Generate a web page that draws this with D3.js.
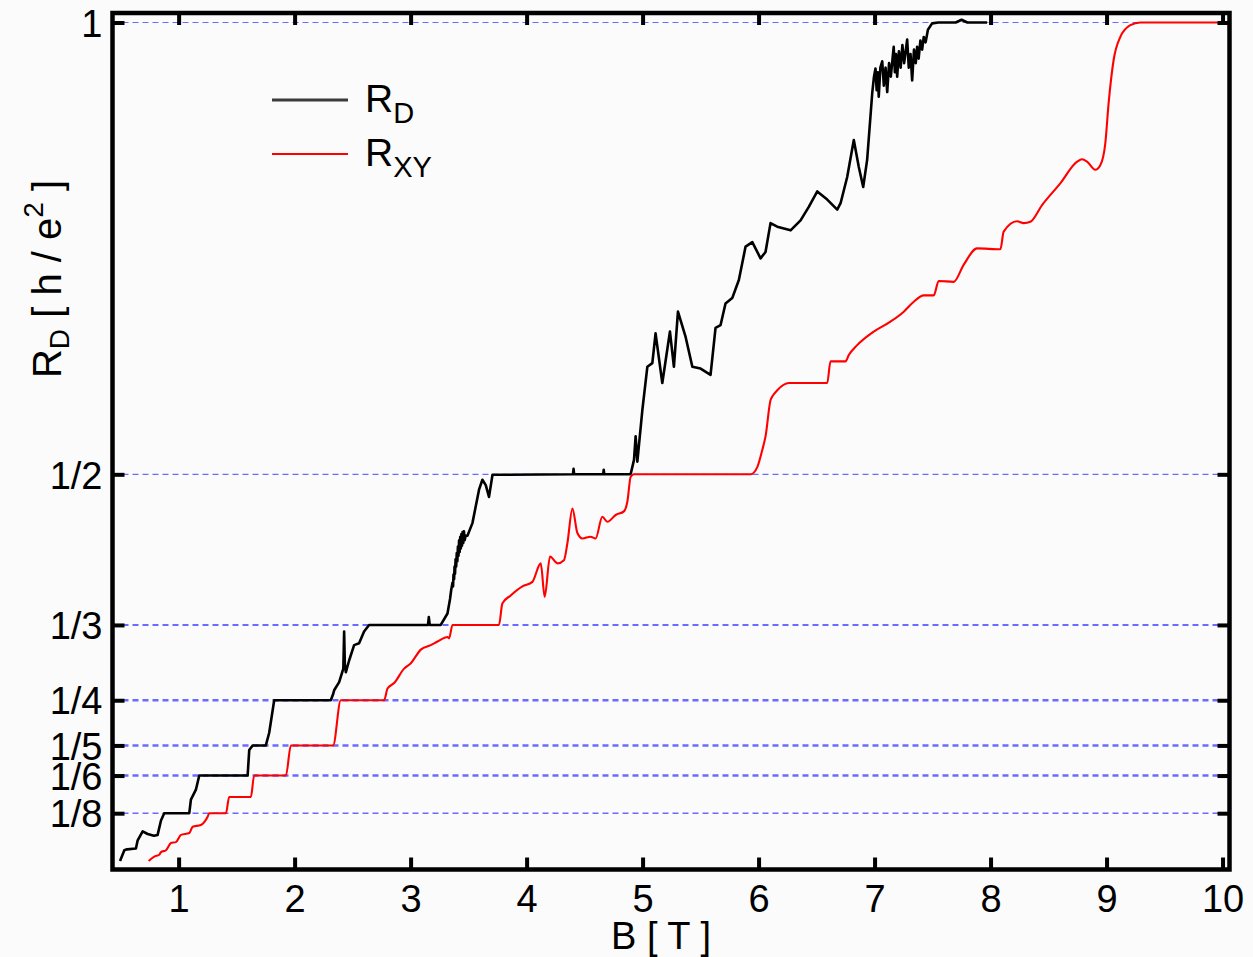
<!DOCTYPE html>
<html>
<head>
<meta charset="utf-8">
<script src="https://cdn.jsdelivr.net/npm/d3@7"></script>
<style>
  html, body { margin: 0; padding: 0; background: #fbfbfb; }
  svg { display: block; }
</style>
</head>
<body>
<svg id="chart" width="1253" height="957"></svg>
<script>
// ---------------- data ----------------
const xTicks = [1, 2, 3, 4, 5, 6, 7, 8, 9, 10];
const yTicks = [1, 1/2, 1/3, 1/4, 1/5, 1/6, 1/8];
const yTickLabels = ["1", "1/2", "1/3", "1/4", "1/5", "1/6", "1/8"];
const seriesNames = ["RD", "RXY"];

// R_D (black) : [B (T), R (h/e^2)]
const rD = [
  [0.495,0.072],[0.532,0.084],[0.555,0.085],[0.632,0.086],[0.647,0.095],[0.690,0.105],[0.733,0.102],
  [0.787,0.100],[0.819,0.101],[0.848,0.117],[0.876,0.125],[1.092,0.125],[1.106,0.140],[1.149,0.151],
  [1.178,0.1667],[1.595,0.1667],[1.609,0.195],[1.638,0.2],[1.752,0.2],[1.781,0.214],[1.824,0.25],
  [2.312,0.25],[2.330,0.256],[2.341,0.261],[2.384,0.270],[2.420,0.285],[2.427,0.326],[2.433,0.290],
  [2.442,0.281],[2.470,0.294],[2.513,0.311],[2.556,0.313],[2.599,0.326],[2.642,0.3333],[3.15,0.3333],
  [3.157,0.342],[3.165,0.3333],[3.26,0.3333],[3.318,0.346],[3.340,0.362],[3.350,0.372],[3.361,0.380],
  [3.366,0.376],[3.370,0.389],[3.375,0.384],[3.379,0.398],[3.383,0.390],[3.388,0.406],[3.393,0.398],
  [3.398,0.413],[3.403,0.404],[3.408,0.420],[3.413,0.410],[3.418,0.427],[3.423,0.414],[3.428,0.431],
  [3.433,0.418],[3.438,0.434],[3.443,0.421],[3.448,0.436],[3.454,0.424],[3.460,0.437],[3.466,0.427],
  [3.475,0.432],[3.490,0.432],[3.533,0.446],[3.590,0.483],[3.619,0.494],[3.648,0.488],[3.676,0.475],
  [3.706,0.4995],[4.40,0.5],[4.405,0.506],[4.41,0.5],[4.66,0.5],[4.665,0.505],[4.67,0.5],[4.897,0.5],
  [4.926,0.516],[4.940,0.542],[4.955,0.514],[4.998,0.571],[5.041,0.619],[5.084,0.623],[5.112,0.656],
  [5.170,0.601],[5.236,0.658],[5.270,0.619],[5.305,0.680],[5.371,0.652],[5.429,0.619],[5.500,0.617],
  [5.586,0.610],[5.629,0.662],[5.672,0.665],[5.715,0.689],[5.773,0.695],[5.830,0.715],[5.888,0.752],
  [5.946,0.757],[6.017,0.739],[6.060,0.746],[6.103,0.778],[6.161,0.774],[6.276,0.770],[6.362,0.781],
  [6.433,0.796],[6.506,0.813],[6.592,0.804],[6.678,0.793],[6.707,0.800],[6.764,0.829],[6.821,0.870],
  [6.864,0.840],[6.902,0.818],[6.936,0.848],[6.980,0.922],[6.995,0.940],[7.008,0.949],[7.018,0.925],
  [7.028,0.945],[7.036,0.918],[7.050,0.950],[7.066,0.957],[7.080,0.930],[7.095,0.950],[7.109,0.923],
  [7.125,0.955],[7.140,0.940],[7.165,0.973],[7.175,0.945],[7.185,0.965],[7.195,0.940],[7.210,0.968],
  [7.225,0.950],[7.240,0.975],[7.255,0.955],[7.281,0.981],[7.295,0.950],[7.310,0.965],[7.324,0.936],
  [7.340,0.970],[7.355,0.955],[7.367,0.973],[7.380,0.960],[7.395,0.980],[7.410,0.970],[7.424,0.984],
  [7.440,0.978],[7.460,0.992],[7.496,0.999],[7.55,1.0],[7.70,1.0],[7.75,1.003],[7.80,1.0],[7.97,1.0]
];

// R_XY (red) : [B (T), R (h/e^2)]
const rXY = [
  [0.742,0.072],[0.790,0.077],[0.833,0.079],[0.848,0.082],[0.891,0.084],[0.934,0.092],[0.977,0.093],
  [1.020,0.101],[1.092,0.103],[1.121,0.110],[1.192,0.112],[1.250,0.121],[1.264,0.125],[1.408,0.125],
  [1.436,0.1429],[1.623,0.1429],[1.651,0.1667],[1.925,0.1667],[1.968,0.2],[2.332,0.2],[2.398,0.25],
  [2.772,0.25],[2.801,0.263],[2.858,0.269],[2.944,0.285],[3.002,0.291],[3.088,0.306],[3.174,0.311],
  [3.232,0.315],[3.318,0.320],[3.332,0.3185],[3.361,0.3333],[3.762,0.3333],[3.791,0.357],[3.863,0.366],
  [3.964,0.376],[4.050,0.381],[4.122,0.4015],[4.156,0.3645],[4.202,0.409],[4.266,0.4015],[4.322,0.405],
  [4.352,0.424],[4.395,0.462],[4.438,0.435],[4.481,0.429],[4.552,0.431],[4.595,0.429],[4.653,0.453],
  [4.696,0.4475],[4.768,0.455],[4.839,0.459],[4.869,0.470],[4.897,0.497],[4.926,0.5],[5.931,0.5],
  [5.989,0.508],[6.032,0.527],[6.060,0.542],[6.103,0.582],[6.118,0.586],[6.161,0.593],[6.261,0.601],
  [6.592,0.601],[6.620,0.625],[6.749,0.625],[6.778,0.632],[6.850,0.643],[6.993,0.658],[7.137,0.669],
  [7.252,0.680],[7.338,0.691],[7.424,0.698],[7.510,0.698],[7.553,0.714],[7.682,0.713],[7.769,0.732],
  [7.884,0.750],[8.085,0.749],[8.113,0.7685],[8.229,0.780],[8.286,0.778],[8.343,0.7795],[8.444,0.798],
  [8.601,0.822],[8.746,0.846],[8.789,0.8486],[8.832,0.846],[8.903,0.837],[8.946,0.842],[8.989,0.866],
  [9.018,0.911],[9.061,0.9585],[9.119,0.984],[9.205,0.997],[9.291,1.0],[10.03,1.0]
];

// ---------------- layout ----------------
const L = 112.5, R = 1229.5, T = 13, B = 869.5;
const FONT = "'Liberation Sans', Arial, Helvetica, sans-serif";

const svg = d3.select("#chart");
svg.append("rect").attr("width", 1253).attr("height", 957).attr("fill", "#fbfbfb");

const x = d3.scaleLinear().domain([0.43, 10.06]).range([L, R]);
const y = d3.scaleLinear().domain([0.0627, 1.0105]).range([B, T]);

// grid (dashed blue)
const gridWidth = v => (v === 1 ? 1.2 : v === 1/2 ? 1.3 : v === 1/8 ? 1.6 : v === 1/3 ? 2 : 2.4);
svg.append("g").selectAll("line").data(yTicks).join("line")
  .attr("x1", L).attr("x2", R)
  .attr("y1", d => y(d)).attr("y2", d => y(d))
  .attr("stroke", "#6b6bff")
  .attr("stroke-width", d => gridWidth(d))
  .attr("stroke-dasharray", "6,4");

// curves
const line = d3.line().x(d => x(d[0])).y(d => y(d[1]));
svg.append("path").datum(rD)
  .attr("fill", "none").attr("stroke", "#000").attr("stroke-width", 2.6)
  .attr("stroke-linejoin", "round").attr("d", line);
svg.append("path").datum(rXY)
  .attr("fill", "none").attr("stroke", "#ff0000").attr("stroke-width", 2.1)
  .attr("stroke-linejoin", "round").attr("d", line.curve(d3.curveMonotoneX));

// axes (inward ticks)
function styleAxis(g) {
  g.select(".domain").remove();
  g.selectAll(".tick line").attr("stroke", "#000").attr("stroke-width", 4);
  g.selectAll(".tick text").attr("fill", "#000").style("font-family", FONT).style("font-size", "38px");
}
svg.append("g").attr("transform", `translate(0,${B})`)
  .call(d3.axisBottom(x).tickValues(xTicks).tickSizeInner(-12).tickSizeOuter(0).tickPadding(16).tickFormat(d3.format("d")))
  .call(styleAxis);
svg.append("g").attr("transform", `translate(0,${T})`)
  .call(d3.axisTop(x).tickValues(xTicks).tickSizeInner(-12).tickSizeOuter(0).tickFormat(""))
  .call(styleAxis);
svg.append("g").attr("transform", `translate(${L},0)`)
  .call(d3.axisLeft(y).tickValues(yTicks).tickSizeInner(-12).tickSizeOuter(0).tickPadding(10)
    .tickFormat((d, i) => yTickLabels[i]))
  .call(styleAxis)
  .selectAll(".tick text").attr("dy", "0.36em");
svg.append("g").attr("transform", `translate(${R},0)`)
  .call(d3.axisRight(y).tickValues(yTicks).tickSizeInner(-12).tickSizeOuter(0).tickFormat(""))
  .call(styleAxis);

// frame
svg.append("rect").attr("x", L).attr("y", T).attr("width", R - L).attr("height", B - T)
  .attr("fill", "none").attr("stroke", "#000").attr("stroke-width", 4.5);

// axis titles
svg.append("text").attr("x", 661).attr("y", 949).attr("text-anchor", "middle")
  .style("font-family", FONT).style("font-size", "38px").attr("fill", "#000")
  .text("B [ T ]");

const yt = svg.append("text").attr("transform", "translate(61,279) rotate(-90)")
  .attr("text-anchor", "middle").style("font-family", FONT).style("font-size", "40px").attr("fill", "#000");
yt.append("tspan").text("R");
yt.append("tspan").attr("dy", 8).style("font-size", "28px").text("D");
yt.append("tspan").attr("dy", -8).text(" [ h / e");
yt.append("tspan").attr("dy", -18).style("font-size", "28px").text("2");
yt.append("tspan").attr("dy", 18).text(" ]");

// legend
const legend = svg.append("g");
const legColors = ["#3a3a3a", "#ff0000"];
const legWidths = [3, 2];
const legSubs = ["D", "XY"];
seriesNames.forEach((s, i) => {
  const ly = 100 + i * 54;
  legend.append("line").attr("x1", 272).attr("x2", 348).attr("y1", ly).attr("y2", ly)
    .attr("stroke", legColors[i]).attr("stroke-width", legWidths[i]);
  const t = legend.append("text").attr("x", 365).attr("y", ly + 12)
    .style("font-family", FONT).style("font-size", "39px").attr("fill", "#000");
  t.append("tspan").text("R");
  t.append("tspan").attr("dy", 11).style("font-size", "29px").text(legSubs[i]);
});
</script>
</body>
</html>
